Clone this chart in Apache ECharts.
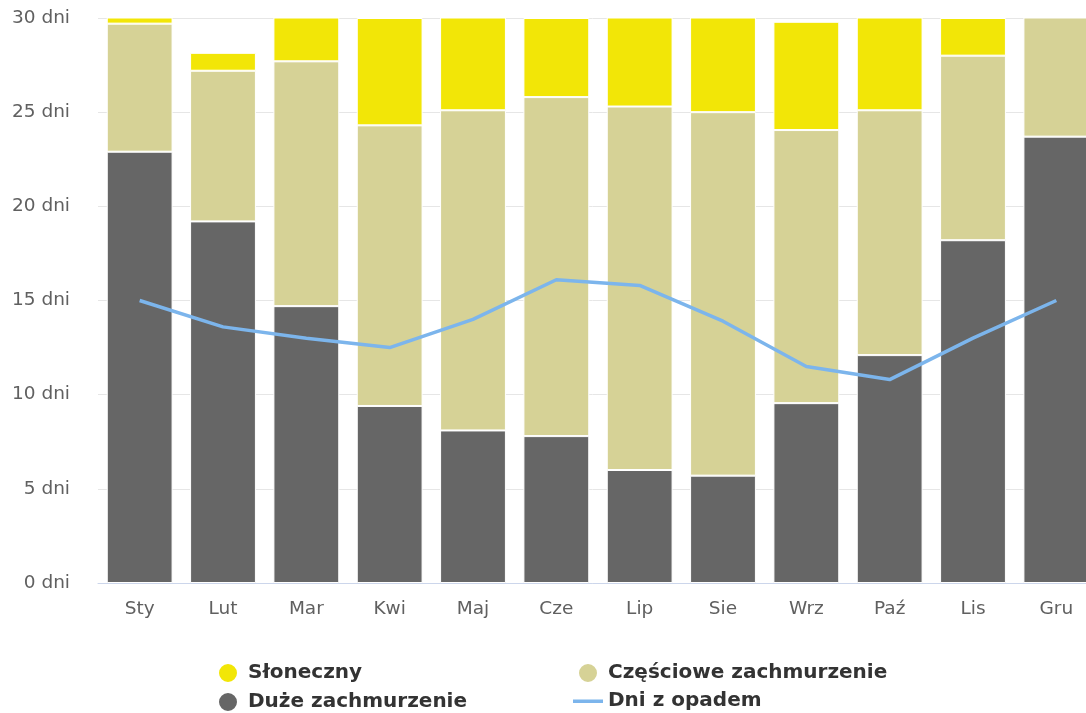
<!DOCTYPE html>
<html><head><meta charset="utf-8">
<script src="https://cdn.jsdelivr.net/npm/echarts@6/dist/echarts.min.js"></script>
<style>html,body{margin:0;padding:0;background:#fff;overflow:hidden}#c{width:1086px;height:713px}</style>
</head><body><div id="c"></div>
<script>
const months = ['Sty','Lut','Mar','Kwi','Maj','Cze','Lip','Sie','Wrz','Paź','Lis','Gru'];
const sunny   = [1.2, 0.95, 3.3, 5.7, 5.9, 4.2, 5.7, 6.0, 5.75, 5.9, 2.0, 0.3];
const partly  = [6.8, 8.0, 13.0, 14.9, 17.0, 18.0, 19.3, 19.3, 14.5, 13.0, 9.8, 7.0];
const overcast= [22.9, 19.2, 14.7, 9.4, 8.1, 7.8, 6.0, 5.7, 9.55, 12.1, 18.2, 23.7];
const precip  = [15.0, 13.6, 13.0, 12.5, 14.0, 16.1, 15.8, 13.9, 11.5, 10.8, 13.0, 15.0];
const yTicks = [0, 5, 10, 15, 20, 25, 30];

const font = '"DejaVu Sans", sans-serif';
const chart = echarts.init(document.getElementById('c'));
const barStyle = c => ({color: c, borderColor: '#ffffff', borderWidth: 1});
const lineIcon = 'path://M0,0h0.01v0.01h-0.01z M0,8.5h30v3.5h-30z M29.99,19.99h0.01v0.01h-0.01z';
const legendText = {fontFamily: font, fontSize: 20, fontWeight: 'bold', color: '#333', lineHeight: 20, padding: [0, 0, 0, 4]};
chart.setOption({
  animation: false,
  textStyle: {fontFamily: font},
  grid: {left: 98, width: 1000, top: 18, bottom: 130, outerBoundsMode: 'none', containLabel: false},
  legend: [
    {left: 217, top: 662, height: 60, orient: 'vertical', padding: 0, itemGap: 7, itemWidth: 22, itemHeight: 20,
     textStyle: legendText,
     data: [{name: 'Słoneczny', icon: 'circle'}, {name: 'Duże zachmurzenie', icon: 'circle'}]},
    {left: 573, top: 662, height: 60, orient: 'vertical', padding: 0, itemGap: 7, itemWidth: 30, itemHeight: 20,
     textStyle: Object.assign({}, legendText, {padding: [0, 0, 0, 0]}),
     data: [{name: 'Częściowe zachmurzenie', icon: 'circle'}, {name: 'Dni z opadem', icon: lineIcon}]}
  ],
  xAxis: {
    type: 'category', data: months,
    axisLine: {lineStyle: {color: '#ccd6eb', width: 1}},
    axisTick: {show: false},
    axisLabel: {color: '#606060', fontSize: 18.5, margin: 17, fontFamily: font}
  },
  yAxis: {
    type: 'value', min: yTicks[0], max: yTicks[yTicks.length - 1], interval: 5,
    axisLabel: {color: '#606060', fontSize: 18.5, margin: 28, fontFamily: font, formatter: v => v + ' dni'},
    splitLine: {lineStyle: {color: '#e6e6e6'}},
    axisLine: {show: false}, axisTick: {show: false}
  },
  series: [
    {name: 'Duże zachmurzenie', type: 'bar', stack: 's', data: overcast, barCategoryGap: '21%', itemStyle: barStyle('#666666')},
    {name: 'Częściowe zachmurzenie', type: 'bar', stack: 's', data: partly, itemStyle: barStyle('#d6d296')},
    {name: 'Słoneczny', type: 'bar', stack: 's', data: sunny, itemStyle: barStyle('#f2e607')},
    {name: 'Dni z opadem', type: 'line', data: precip, symbol: 'none', z: 5,
     lineStyle: {color: '#7cb5ec', width: 3.5}, itemStyle: {color: '#7cb5ec'}}
  ]
});
</script></body></html>
